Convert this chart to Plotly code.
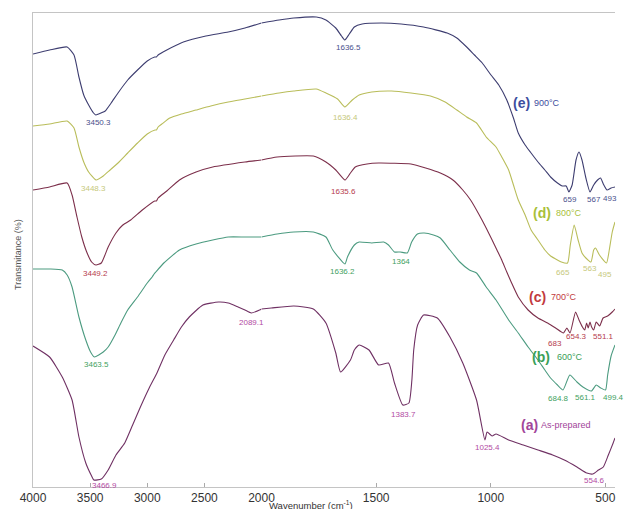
import numpy as np
import plotly.graph_objects as go

# ---------------- FTIR spectra: wavenumber (cm-1) vs offset transmittance ----------------
wn_e = [4000, 3855, 3701, 3641, 3598, 3556, 3513, 3470, 3450.3, 3427, 3368, 3316, 3256, 3171, 3085,
        3000, 2935, 2920, 2905, 2829, 2684, 2487, 2291, 2145, 2000, 1923, 1859, 1761, 1719, 1676,
        1651, 1636.5, 1617, 1595, 1561, 1476, 1391, 1293, 1190, 1148, 1105, 1071, 1037, 999, 965,
        930, 901, 880, 850, 824, 794, 764, 739, 709, 688, 671, 659, 645, 628, 615, 602, 585, 567,
        551, 534, 521, 509, 493, 475, 458]
t_e = [433, 437, 440, 432, 410, 392, 382, 374, 372, 373, 376, 384, 394, 407, 417,
       426, 430, 430, 432, 437, 445, 451, 455, 459, 464, 467, 469, 470, 467, 459,
       451, 447, 453, 460, 463, 464, 463, 460, 454, 449, 440, 432, 424, 412, 402,
       387, 369, 354, 342, 334, 325, 317, 310, 304, 301, 301, 295, 302, 327, 335, 327, 309, 295,
       302, 307, 309, 303, 297, 299, 300]

wn_d = [4000, 3855, 3701, 3641, 3598, 3556, 3513, 3448.3, 3385, 3325, 3256, 3171, 3085, 3000,
        2932, 2920, 2905, 2872, 2803, 2701, 2573, 2444, 2291, 2145, 2000, 1923, 1859, 1761, 1719,
        1668, 1636.4, 1604, 1574, 1519, 1433, 1348, 1263, 1199, 1148, 1105, 1062, 1020, 977, 952,
        922, 901, 880, 850, 824, 794, 764, 739, 709, 692, 665, 653, 636, 619, 602, 585, 563, 551,
        543, 526, 495, 483, 470, 458]
t_d = [361, 363, 366, 359, 340, 325, 315, 307, 311, 317, 324, 334, 344, 353,
       357, 357, 360, 363, 369, 373, 377, 381, 385, 388, 391, 394, 396, 398, 394,
       388, 380, 387, 392, 395, 396, 394, 391, 385, 377, 370, 364, 350, 340, 330,
       317, 302, 287, 272, 257, 247, 237, 231, 227, 225, 224, 242, 262, 247, 234, 229, 225, 237,
       239, 232, 224, 237, 255, 265]

wn_c = [4000, 3855, 3701, 3658, 3615, 3573, 3530, 3487, 3449.2, 3402, 3342, 3274, 3214, 3145,
        3043, 2935, 2920, 2905, 2829, 2718, 2573, 2427, 2145, 2000, 1932, 1774, 1719, 1676,
        1635.6, 1612, 1591, 1540, 1489, 1348, 1284, 1220, 1165, 1122, 1088, 1050, 1020, 994, 973,
        952, 930, 909, 880, 837, 794, 752, 717, 683, 668, 654.3, 630, 615, 600, 590, 582, 575,
        567, 560, 551.1, 540, 525, 510, 490, 470, 458]
t_c = [297, 300, 304, 292, 270, 250, 235, 225, 222, 224, 240, 254, 262, 267,
       277, 286, 286, 289, 296, 307, 315, 320, 325, 327, 330, 331, 325, 317,
       307, 314, 320, 323, 324, 323, 319, 314, 307, 297, 287, 272, 259, 247, 237,
       227, 215, 204, 190, 177, 169, 164, 159, 154, 159, 154, 175, 167, 160, 157, 164, 159,
       165, 160, 157, 165, 161, 169, 171, 175, 178]

wn_b = [4000, 3855, 3744, 3701, 3658, 3598, 3538, 3496, 3463.5, 3385, 3342, 3282, 3231, 3171,
        3085, 3000, 2957, 2940, 2925, 2855, 2718, 2573, 2427, 2291, 2145, 2000, 1932, 1859, 1774,
        1719, 1689, 1636.2, 1625, 1595, 1574, 1519, 1467, 1446, 1420, 1395, 1364, 1345, 1320,
        1290, 1250, 1220, 1178, 1135, 1093, 1062, 1020, 977, 922, 880, 837, 794, 764, 739, 709,
        684.8, 655, 624, 598, 561.1, 540, 520, 499.4, 490, 475, 458]
t_b = [218, 218, 217, 212, 200, 170, 147, 135, 130, 135, 140, 152, 164, 177,
       190, 204, 210, 213, 215, 224, 237, 243, 247, 250, 250, 250, 253, 255, 255,
       250, 237, 223, 230, 242, 245, 244, 245, 242, 235, 235, 234, 245, 253,
       254, 252, 249, 237, 225, 217, 214, 200, 187, 167, 154, 140, 127, 117, 109, 102,
       97, 112, 105, 100, 96, 102, 99, 97, 112, 131, 142]

wn_a = [4000, 3855, 3744, 3658, 3598, 3538, 3487, 3466.9, 3402, 3342, 3274, 3197, 3128, 3060,
        2983, 2915, 2846, 2769, 2701, 2632, 2513, 2376, 2291, 2205, 2145, 2089.1, 2017, 2000,
        1957, 1859, 1774, 1719, 1676, 1655, 1612, 1595, 1574, 1531, 1489, 1446, 1420, 1383.7,
        1357, 1344, 1336, 1319, 1293, 1233, 1178, 1122, 1062, 1025.4, 1016, 994, 977, 922, 858,
        794, 730, 679, 624, 581, 554.6, 530, 509, 487, 466, 458]
t_a = [141, 130, 110, 87, 50, 24, 11, 7, 8, 17, 32, 44, 62, 80,
       99, 114, 132, 147, 160, 170, 182, 185, 184, 180, 177, 174, 177, 178,
       179, 181, 178, 164, 134, 115, 127, 137, 142, 137, 122, 124, 104, 82,
       84, 107, 137, 162, 172, 169, 150, 124, 87, 47, 55, 51, 53, 47, 42,
       37, 32, 27, 20, 14, 13, 17, 20, 32, 44, 49]

# labelled band positions (cm-1) for each sample
peaks_e = [3450.3, 1636.5, 659, 567, 493]
peaks_d = [3448.3, 1636.4, 665, 563, 495]
peaks_c = [3449.2, 1635.6, 683, 654.3, 551.1]
peaks_b = [3463.5, 1636.2, 1364, 684.8, 561.1, 499.4]
peaks_a = [3466.9, 2089.1, 1383.7, 1025.4, 554.6]

sample_tags = ["(e)", "(d)", "(c)", "(b)", "(a)"]
sample_names = ["900°C", "800°C", "700°C", "600°C", "As-prepared"]

# ---------------- styling ----------------
line_colors = ["#3d3d70", "#b9bd5a", "#7c2f4b", "#4c9b80", "#6f3063"]
tag_colors = ["#3d4d9e", "#a9bf3b", "#c23a3e", "#3aa058", "#a2459a"]
peak_colors = ["#4a4f8c", "#c6c87c", "#b53b4e", "#3f9f62", "#b24aa3"]

# label offsets in pixels (dx, dy) relative to each band minimum
peak_offsets = [
    [(3, -7), (4, -7), (1, -7), (4, -7), (3, -8)],
    [(-3, -8), (1, -10), (-5, -9), (-1, -6), (-2, -11)],
    [(0, -8), (-2, -11), (-8, -10), (6, -3), (10, -6)],
    [(2, -7), (-2, -7), (-6, -8), (-5, -8), (-6, -6), (8, -7)],
    [(11, -5), (0, -9), (1, -9), (3, -7), (2, -6)],
]
# tag / name positions: (wavenumber, level)
tag_pos = [(867, 384), (777, 274), (798, 190), (781, 130), (832, 62)]
name_pos = [(756, 384), (658, 274), (679, 190), (654, 130), (671, 62)]

BREAK = 2000  # axis scale changes here
X_END = 458

spectra = [(wn_e, t_e), (wn_d, t_d), (wn_c, t_c), (wn_b, t_b), (wn_a, t_a)]
peak_sets = [peaks_e, peaks_d, peaks_c, peaks_b, peaks_a]

fig = go.Figure()
for (wn, t), col in zip(spectra, line_colors):
    wn = np.asarray(wn, float)
    t = np.asarray(t, float)
    hi = wn >= BREAK
    lo = wn <= BREAK
    fig.add_trace(go.Scatter(x=wn[hi], y=t[hi], mode="lines", xaxis="x", yaxis="y",
                             line=dict(color=col, width=1.1, shape="spline", smoothing=0.5),
                             showlegend=False, hoverinfo="skip"))
    fig.add_trace(go.Scatter(x=wn[lo], y=t[lo], mode="lines", xaxis="x2", yaxis="y",
                             line=dict(color=col, width=1.1, shape="spline", smoothing=0.5),
                             showlegend=False, hoverinfo="skip"))

annotations = []
for (wn, t), peaks, offs, pc in zip(spectra, peak_sets, peak_offsets, peak_colors):
    order = np.argsort(wn)
    wn_s = np.asarray(wn, float)[order]
    t_s = np.asarray(t, float)[order]
    for p, (dx, dy) in zip(peaks, offs):
        yv = float(np.interp(p, wn_s, t_s))
        annotations.append(dict(
            x=p, y=yv, xref="x" if p > BREAK else "x2", yref="y",
            text=f"{p:g}" if p != int(p) else f"{int(p)}",
            showarrow=False, xshift=dx, yshift=dy,
            font=dict(family="Liberation Sans, Arial", size=8, color=pc),
        ))

for tag, name, (tx, ty), (nx, ny), tc in zip(sample_tags, sample_names, tag_pos, name_pos, tag_colors):
    annotations.append(dict(x=tx, y=ty, xref="x2", yref="y", text=f"<b>{tag}</b>",
                            showarrow=False,
                            font=dict(family="Liberation Sans, Arial", size=14, color=tc)))
    annotations.append(dict(x=nx, y=ny, xref="x2", yref="y", text=name, showarrow=False,
                            font=dict(family="Liberation Sans, Arial", size=9, color=tc)))

# axis titles
annotations.append(dict(x=(318 - 33) / 596.0, y=-0.0211, xref="paper", yref="paper",
                        xanchor="center", yanchor="top", text="Wavenumber (cm<sup>-1</sup>)",
                        showarrow=False,
                        font=dict(family="Liberation Sans, Arial", size=9.5, color="#333")))
annotations.append(dict(x=-0.027, y=0.49, xref="paper", yref="paper", xanchor="center",
                        yanchor="middle", text="Transmitance (%)", textangle=-90, showarrow=False,
                        font=dict(family="Liberation Sans, Arial", size=9, color="#555")))

split = (267 - 33) / 596.0
axis_common = dict(showline=True, linecolor="#c4c4c4", linewidth=1, mirror=True,
                   ticks="inside", ticklen=4, tickcolor="#aaa", showgrid=False, zeroline=False,
                   tickfont=dict(family="Liberation Sans, Arial", size=12, color="#333"))

fig.update_layout(
    width=629, height=509,
    margin=dict(l=33, r=0, t=13, b=22),
    paper_bgcolor="white", plot_bgcolor="white",
    xaxis=dict(domain=[0, split], range=[4000, BREAK],
               tickvals=[4000, 3500, 3000, 2500, 2000], anchor="y", **axis_common),
    xaxis2=dict(domain=[split, 1], range=[BREAK, X_END],
                tickvals=[1500, 1000, 500], anchor="y", **axis_common),
    yaxis=dict(range=[0, 474], showticklabels=False, showline=True, linecolor="#c4c4c4",
               linewidth=1, ticks="", showgrid=False, zeroline=False),
    annotations=annotations,
    showlegend=False,
)

fig.write_html("out.html")
